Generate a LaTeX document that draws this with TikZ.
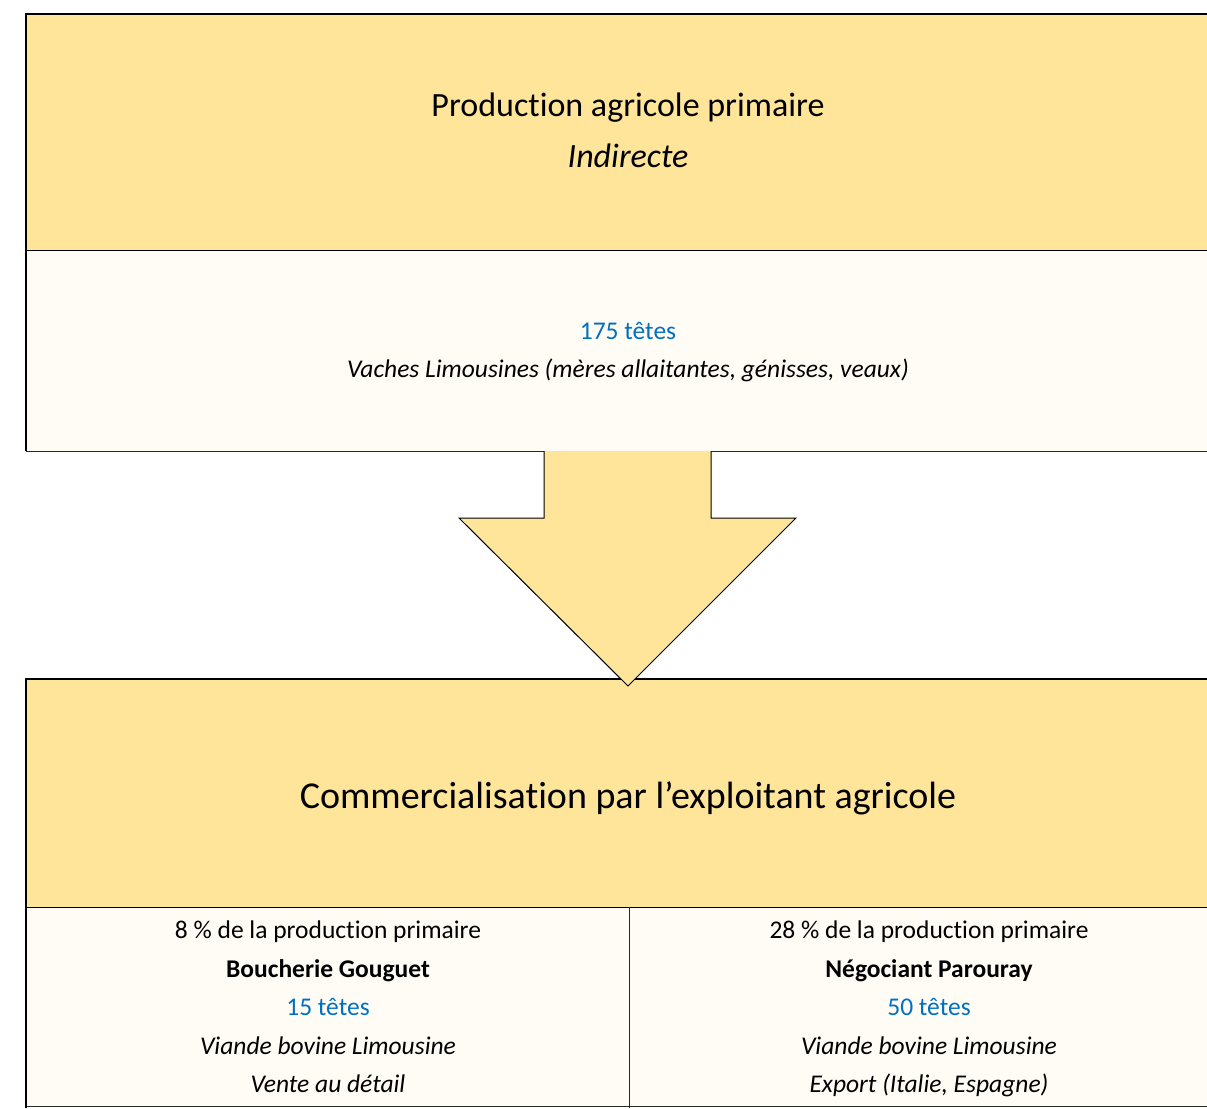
\documentclass[tikz,border=0pt]{standalone}
\usepackage{fontspec}
\setmainfont[Ligatures=NoCommon]{Carlito}
\definecolor{hdr}{RGB}{255,229,153}
\definecolor{body}{RGB}{255,252,245}
\definecolor{bluetxt}{RGB}{0,112,192}
\definecolor{edge}{RGB}{40,40,40}
\tikzset{
  hdrbox/.style={fill=hdr,draw=black,line width=1pt},
  bodybox/.style={fill=body,draw=edge,line width=0.8pt},
  txt/.style={inner sep=0pt,anchor=base},
  big/.style={txt,font=\fontsize{34}{38}\selectfont},
  bigit/.style={txt,font=\fontsize{34}{38}\selectfont\itshape},
  huge/.style={txt,font=\fontsize{38}{44}\selectfont},
  small/.style={txt,font=\fontsize{25.5}{30}\selectfont},
  smallit/.style={txt,font=\fontsize{25.5}{30}\selectfont\itshape},
  smallbf/.style={txt,font=\fontsize{25.5}{30}\selectfont\bfseries},
}
\begin{document}
\begin{tikzpicture}[x=1pt,y=-1pt]
\useasboundingbox (0,0) rectangle (1207,1108);
\clip (0,0) rectangle (1207,1108);
% top block
\path[bodybox] (26,250) rectangle (1230,451);
\path[hdrbox] (26,14) rectangle (1230,250);
\draw[black,line width=1.5pt] (26,451) -- (26,14) -- (1230,14);
% bottom block
\path[bodybox] (26,907) rectangle (1230,1106);
\path[hdrbox] (26,679) rectangle (1230,907);
\draw[black,line width=1.5pt] (26,1108) -- (26,679) -- (1230,679);
\draw[edge,line width=0.8pt] (629,907) -- (629,1108);
% arrow
\draw[fill=hdr,draw=black,line width=1pt,line join=miter]
  (544,451) -- (544,518) -- (459,518) -- (628,686) -- (796,518) -- (711,518) -- (711,451);
% texts
\node[big] (t1) at (628,116) {Production agricole primaire};
\node[bigit] (t2) at (628,167) {Indirecte};
\node[small,text=bluetxt] (t3) at (628,339) {175 têtes};
\node[smallit] (t4) at (628,377) {Vaches Limousines (mères allaitantes, génisses, veaux)};
\node[huge] (t5) at (628,808) {Commercialisation par l’exploitant agricole};
\node[small] (l1) at (328,938) {8 \% de la production primaire};
\node[smallbf] (l2) at (328,977) {Boucherie Gouguet};
\node[small,text=bluetxt] (l3) at (328,1015) {15 têtes};
\node[smallit] (l4) at (328,1054) {Viande bovine Limousine};
\node[smallit] (l5) at (328,1092) {Vente au détail};
\node[small] (r1) at (929,938) {28 \% de la production primaire};
\node[smallbf] (r2) at (929,977) {Négociant Parouray};
\node[small,text=bluetxt] (r3) at (929,1015) {50 têtes};
\node[smallit] (r4) at (929,1054) {Viande bovine Limousine};
\node[smallit] (r5) at (929,1092) {Export (Italie, Espagne)};
\end{tikzpicture}
\end{document}
